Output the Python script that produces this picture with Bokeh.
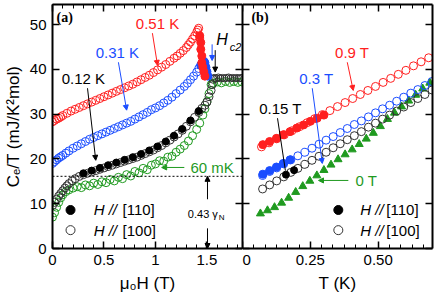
from bokeh.plotting import figure
from bokeh.models import (Range1d, LinearAxis, FixedTicker, Label, Arrow, NormalHead, Span,
                          CustomJSTickFormatter)
from bokeh.layouts import row
from bokeh.embed import file_html
from bokeh.resources import INLINE

# ---------------- data: panel (a)  C_e/T vs mu0H ----------------
red_open_H = [0.00,0.02,0.04,0.06,0.08,0.10,0.14,0.18,0.22,0.26,0.30,0.34,0.38,0.42,0.46,0.50,0.54,0.58,0.62,0.66,0.70,0.74,0.78,0.82,0.86,0.90,0.94,0.98,1.02,1.06,1.10,1.14,1.18,1.21,1.24,1.27,1.30,1.32,1.34,1.36,1.38,1.40,1.41,1.42,1.43]
red_open_C = [28.3,28.6,28.9,29.1,29.4,29.7,30.2,30.7,31.1,31.5,31.9,32.3,32.7,33.1,33.5,33.9,34.3,34.7,35.1,35.5,35.9,36.3,36.7,37.2,37.7,38.2,38.7,39.3,39.9,40.5,41.1,41.8,42.5,43.0,43.6,44.2,44.9,45.5,46.1,46.8,47.5,48.3,48.8,49.2,47.0]
red_fill_H = [1.43,1.44,1.44,1.45,1.45,1.46,1.47,1.48]
red_fill_C = [47.5,46.0,44.5,43.0,41.5,40.5,39.5,38.5]

blue_open_H = [0.00,0.02,0.04,0.06,0.08,0.10,0.13,0.16,0.20,0.24,0.28,0.32,0.36,0.40,0.44,0.48,0.52,0.56,0.60,0.64,0.68,0.72,0.76,0.80,0.84,0.88,0.92,0.96,1.00,1.04,1.08,1.12,1.16,1.20,1.24,1.28,1.31,1.34,1.37,1.40,1.42,1.44]
blue_open_C = [19.0,19.4,19.8,20.2,20.5,20.8,21.3,21.8,22.4,22.9,23.4,23.9,24.4,24.8,25.2,25.6,26.0,26.4,26.8,27.2,27.6,28.0,28.4,28.9,29.4,29.9,30.4,31.0,31.4,31.9,32.5,33.1,33.8,34.6,35.4,36.2,36.9,37.7,38.5,39.4,40.2,40.9]
blue_fill_H = [1.44,1.46,1.47,1.48,1.49,1.50,1.51]
blue_fill_C = [41.0,41.6,41.8,41.5,40.5,39.5,38.5]

black_open_H = [0.00,0.02,0.04,0.06,0.08,0.10,0.12,0.14,0.16,0.19,0.22,0.26,0.30,0.34,0.38,0.42,0.46,0.50,0.54,0.58,0.62,0.66,0.70,0.74,0.78,0.82,0.86,0.90,0.94,0.98,1.02,1.06,1.10,1.14,1.18,1.22,1.26,1.30,1.34,1.38,1.42,1.45,1.48,1.50,1.52,1.54,1.55,1.56]
black_open_C = [9.6,10.3,11.0,11.7,12.3,12.9,13.5,14.0,14.5,15.1,15.6,16.1,16.5,16.8,17.1,17.4,17.7,18.0,18.3,18.6,18.9,19.2,19.5,19.8,20.1,20.4,20.8,21.2,21.6,22.0,22.5,23.0,23.6,24.2,24.9,25.6,26.4,27.3,28.3,29.3,30.4,31.3,32.0,32.7,33.9,35.3,36.6,37.8]
black_fill_H = [0.30,0.38,0.46,0.54,0.62,0.70,0.78,0.86,0.94,1.02,1.10,1.18,1.26,1.34,1.42]
black_fill_C = [16.8,17.4,18.0,18.6,19.2,19.8,20.4,21.1,21.9,22.8,23.9,25.2,26.7,28.6,30.7]
black_norm_H = [1.57,1.59,1.61,1.63,1.65,1.67,1.69,1.71,1.73,1.75,1.77,1.79,1.81,1.83]
black_norm_C = [38.1,38.0,38.2,38.0,38.1,38.0,38.1,38.2,38.0,38.1,38.0,38.1,38.0,38.1]

green_open_H = [0.00,0.02,0.04,0.06,0.08,0.10,0.13,0.16,0.20,0.24,0.28,0.32,0.36,0.40,0.44,0.48,0.52,0.56,0.60,0.64,0.68,0.72,0.76,0.80,0.84,0.88,0.92,0.96,1.00,1.04,1.08,1.12,1.16,1.20,1.24,1.28,1.32,1.36,1.40,1.43,1.46,1.48,1.50,1.52,1.54]
green_open_C = [7.0,8.0,9.2,10.3,11.3,12.0,12.7,13.1,13.5,13.8,13.6,14.2,14.0,14.6,14.3,14.9,14.7,15.4,15.1,15.9,15.6,16.5,16.2,17.2,16.9,17.9,17.6,18.6,18.9,19.6,19.5,20.4,20.6,21.5,22.2,23.0,24.0,25.2,26.6,28.0,29.8,31.2,32.8,34.6,36.6]
green_norm_H = [1.56,1.60,1.64,1.68,1.72,1.76,1.80,1.84]
green_norm_C = [36.9,37.2,37.0,37.3,37.1,37.3,37.1,37.2]

gamma_N = 37.5
ratio_N = 0.43

# ---------------- data: panel (b)  C_e/T vs T ----------------
red_b_T = [0.070,0.098,0.126,0.154,0.182,0.210,0.238,0.266,0.294,0.322,0.350,0.378,0.406,0.434,0.462,0.490,0.518,0.546,0.574,0.602,0.630,0.658,0.686]
red_b_C = [22.7,23.6,24.5,25.4,26.3,27.2,28.1,29.0,29.9,30.8,31.7,32.6,33.5,34.4,35.3,36.2,37.1,38.0,38.9,39.8,40.8,41.7,42.6]
red_bf_T = [0.075,0.100,0.125,0.150,0.175,0.200,0.225,0.250,0.275,0.300]
red_bf_C = [23.2,23.9,24.6,25.4,26.1,26.9,27.6,28.4,29.1,29.8]

blue_b_T = [0.074,0.100,0.126,0.152,0.178,0.204,0.230,0.256,0.282,0.308,0.334,0.360,0.386,0.412,0.438,0.464,0.490,0.516,0.542,0.568,0.594,0.620,0.646,0.672,0.698]
blue_b_C = [16.3,17.2,18.0,18.9,19.8,20.7,21.5,22.4,23.3,24.2,25.0,25.9,26.8,27.7,28.5,29.4,30.3,31.2,32.0,32.9,33.8,34.7,35.5,36.4,37.3]
blue_bf_T = [0.075,0.100,0.125,0.150,0.175]
blue_bf_C = [16.6,17.4,18.2,19.0,19.8]

black_b_T = [0.074,0.100,0.126,0.152,0.178,0.204,0.230,0.256,0.282,0.308,0.334,0.360,0.386,0.412,0.438,0.464,0.490,0.516,0.542,0.568,0.594,0.620,0.646,0.672,0.698]
black_b_C = [13.3,14.2,15.1,16.0,17.0,17.9,18.8,19.7,20.6,21.5,22.5,23.4,24.3,25.2,26.1,27.1,28.0,28.9,29.8,30.7,31.6,32.6,33.5,34.4,35.4]
black_bf_T = [0.160,0.190]
black_bf_C = [16.5,17.5]

green_b_T = [0.066,0.092,0.118,0.144,0.170,0.196,0.222,0.248,0.274,0.300,0.326,0.352,0.378,0.404,0.430,0.456,0.482,0.508,0.534,0.560,0.586,0.612,0.638,0.664,0.690]
green_b_C = [7.8,8.5,9.2,10.2,11.3,12.6,13.9,15.1,16.3,17.5,18.7,19.9,21.0,22.1,23.3,24.5,25.8,27.3,28.9,30.3,31.7,33.0,34.3,35.7,37.0]

# tick values
ya_ticks = [0, 10, 20, 30, 40, 50]
xa_ticks = [0, 0.5, 1.0, 1.5]
xb_ticks = [0, 0.25, 0.50]
xb_labels = {0: "0", 0.25: "0.25", 0.5: "0.50"}

RED = "#ff2020"
BLUE = "#1a4dff"
GREEN = "#1f9a1f"
BLACK = "#000000"
GRAY = "#333333"
FONT = "Liberation Sans"

YR = (0, 54.5)


def style_axis(ax, ticker, labels=True):
    ax.ticker = ticker
    ax.axis_line_width = 2
    ax.axis_line_color = "black"
    ax.major_tick_in = 7
    ax.major_tick_out = 0
    ax.minor_tick_in = 4
    ax.minor_tick_out = 0
    ax.major_tick_line_width = 1.5
    ax.minor_tick_line_width = 1
    ax.major_label_text_font = FONT
    ax.major_label_text_font_size = "15px"
    ax.major_label_text_color = "black"
    ax.major_label_standoff = 6
    ax.axis_label_text_font = FONT
    ax.axis_label_text_font_size = "17px"
    ax.axis_label_text_font_style = "normal"
    ax.axis_label_text_color = "black"
    ax.axis_label_standoff = 6
    if not labels:
        ax.formatter = CustomJSTickFormatter(code="return ''")
        ax.major_label_standoff = 0
        ax.axis_label = None


def make_fig(xr, xticks, xminor, left_border, right_border):
    p = figure(frame_width=190, frame_height=244, x_range=Range1d(*xr), y_range=Range1d(*YR),
               output_backend="svg", toolbar_location=None,
               min_border_left=left_border, min_border_right=right_border,
               min_border_top=4, min_border_bottom=48, x_axis_location=None, y_axis_location=None)
    p.grid.visible = False
    p.outline_line_color = None
    p.background_fill_color = "white"
    bottom = LinearAxis()
    style_axis(bottom, FixedTicker(ticks=xticks, minor_ticks=xminor))
    left = LinearAxis()
    style_axis(left, FixedTicker(ticks=ya_ticks, minor_ticks=[]), labels=(left_border > 0))
    top = LinearAxis()
    style_axis(top, FixedTicker(ticks=xticks, minor_ticks=xminor), labels=False)
    right = LinearAxis()
    style_axis(right, FixedTicker(ticks=ya_ticks, minor_ticks=[]), labels=False)
    p.add_layout(bottom, "below")
    p.add_layout(left, "left")
    p.add_layout(top, "above")
    p.add_layout(right, "right")
    return p, bottom, left


def arrow(p, x0, y0, x1, y1, c, head=True):
    end = NormalHead(size=5, line_color=c, fill_color=c, line_width=1) if head else None
    p.add_layout(Arrow(end=end, x_start=x0, y_start=y0, x_end=x1, y_end=y1,
                       line_color=c, line_width=1))


def label(p, x, y, text, c="black", size="14px", align="center", style="normal", font=FONT):
    p.add_layout(Label(x=x, y=y, text=text, text_color=c, text_font_size=size,
                       text_align=align, text_baseline="middle", text_font_style=style,
                       text_font=font))


def open_pts(p, x, y, c, size=8, lw=1):
    p.scatter(x, y, marker="circle", size=size, line_color=c, fill_alpha=0, line_width=lw)


def fill_pts(p, x, y, c, size=8):
    p.scatter(x, y, marker="circle", size=size, line_color=c, fill_color=c)


# ---------------- panel (a) ----------------
pa, pa_x, pa_y = make_fig((0, 1.845), xa_ticks, [0.1 * k for k in range(19)], 52, 0)
pa_x.axis_label = "\u03bc\u2080H (T)"
pa_y.axis_label = "C\u2091/T (mJ/K\u00b2mol)"
pa_y.axis_label_standoff = 4

pa.add_layout(Span(location=ratio_N * gamma_N, dimension="width", line_color="black",
                   line_dash="2 2", line_width=1))

open_pts(pa, green_open_H, green_open_C, GREEN)
open_pts(pa, green_norm_H, green_norm_C, GREEN)
open_pts(pa, black_norm_H, black_norm_C, GRAY, size=7)
open_pts(pa, black_open_H, black_open_C, GRAY)
fill_pts(pa, black_fill_H, black_fill_C, BLACK, size=7)
open_pts(pa, blue_open_H, blue_open_C, BLUE)
fill_pts(pa, blue_fill_H, blue_fill_C, BLUE)
open_pts(pa, red_open_H, red_open_C, RED)
fill_pts(pa, red_fill_H, red_fill_C, RED)

label(pa, 0.04, 51.7, "(a)", size="14px", align="left", style="bold", font="Liberation Serif")
label(pa, 1.02, 50.3, "0.51 K", RED, size="15px")
arrow(pa, 0.97, 48.1, 1.02, 40.9, RED)
label(pa, 0.63, 43.8, "0.31 K", BLUE, size="15px")
arrow(pa, 0.64, 41.6, 0.72, 30.9, BLUE)
label(pa, 0.30, 38.0, "0.12 K", BLACK, size="15px")
arrow(pa, 0.34, 35.8, 0.42, 19.7, BLACK)
label(pa, 1.59, 46.6, "H", size="16px", align="left", style="italic")
label(pa, 1.72, 44.9, "c2", size="11px", align="left", style="italic")
arrow(pa, 1.58, 44.3, 1.58, 39.4, BLACK)
arrow(pa, 1.55, 45.6, 1.55, 42.0, BLUE)
label(pa, 1.55, 18.1, "60 mK", GREEN, size="15px")
arrow(pa, 1.28, 18.1, 1.06, 18.1, GREEN)
arrow(pa, 1.505, 11.0, 1.505, ratio_N * gamma_N, BLACK)
arrow(pa, 1.505, 4.5, 1.505, 0.0, BLACK)
label(pa, 1.46, 7.8, "0.43 \u03b3", size="11px")
label(pa, 1.615, 7.0, "N", size="8px", align="left")

fill_pts(pa, [0.175], [8.6], BLACK, size=9)
open_pts(pa, [0.175], [4.1], GRAY, size=9)
label(pa, 0.40, 8.6, "H //", align="left", style="italic", size="15px")
label(pa, 0.68, 8.6, "[110]", align="left", size="15px")
label(pa, 0.40, 4.1, "H //", align="left", style="italic", size="15px")
label(pa, 0.68, 4.1, "[100]", align="left", size="15px")

# ---------------- panel (b) ----------------
pb, pb_x, pb_y = make_fig((0, 0.70), xb_ticks, [0.25 / 6 * k for k in range(17)], 0, 2)
pb_x.axis_label = "T (K)"
pb_x.major_label_overrides = xb_labels

pb.scatter(green_b_T, green_b_C, marker="triangle", size=8, line_color=GREEN, fill_color=GREEN)
open_pts(pb, black_b_T, black_b_C, GRAY)
fill_pts(pb, black_bf_T, black_bf_C, BLACK, size=7)
open_pts(pb, blue_b_T, blue_b_C, BLUE)
fill_pts(pb, blue_bf_T, blue_bf_C, BLUE)
open_pts(pb, red_b_T, red_b_C, RED)
fill_pts(pb, red_bf_T, red_bf_C, RED)

label(pb, 0.033, 51.5, "(b)", size="14px", align="left", style="bold", font="Liberation Serif")
label(pb, 0.404, 43.8, "0.9 T", RED, size="15px")
arrow(pb, 0.386, 41.6, 0.408, 35.3, RED)
label(pb, 0.272, 38.0, "0.3 T", BLUE, size="15px")
arrow(pb, 0.257, 35.8, 0.294, 19.0, BLUE)
label(pb, 0.14, 31.3, "0.15 T", BLACK, size="15px")
arrow(pb, 0.129, 29.1, 0.158, 17.4, BLACK, head=False)
label(pb, 0.456, 15.2, "0 T", GREEN, size="15px")
arrow(pb, 0.39, 15.2, 0.28, 15.2, GREEN)

fill_pts(pb, [0.353], [8.6], BLACK, size=9)
open_pts(pb, [0.353], [4.1], GRAY, size=9)
label(pb, 0.434, 8.6, "H //", align="left", style="italic", size="15px")
label(pb, 0.53, 8.6, "[110]", align="left", size="15px")
label(pb, 0.434, 4.1, "H //", align="left", style="italic", size="15px")
label(pb, 0.53, 4.1, "[100]", align="left", size="15px")

layout = row(pa, pb)
open("out.html", "w").write(file_html(layout, INLINE))
